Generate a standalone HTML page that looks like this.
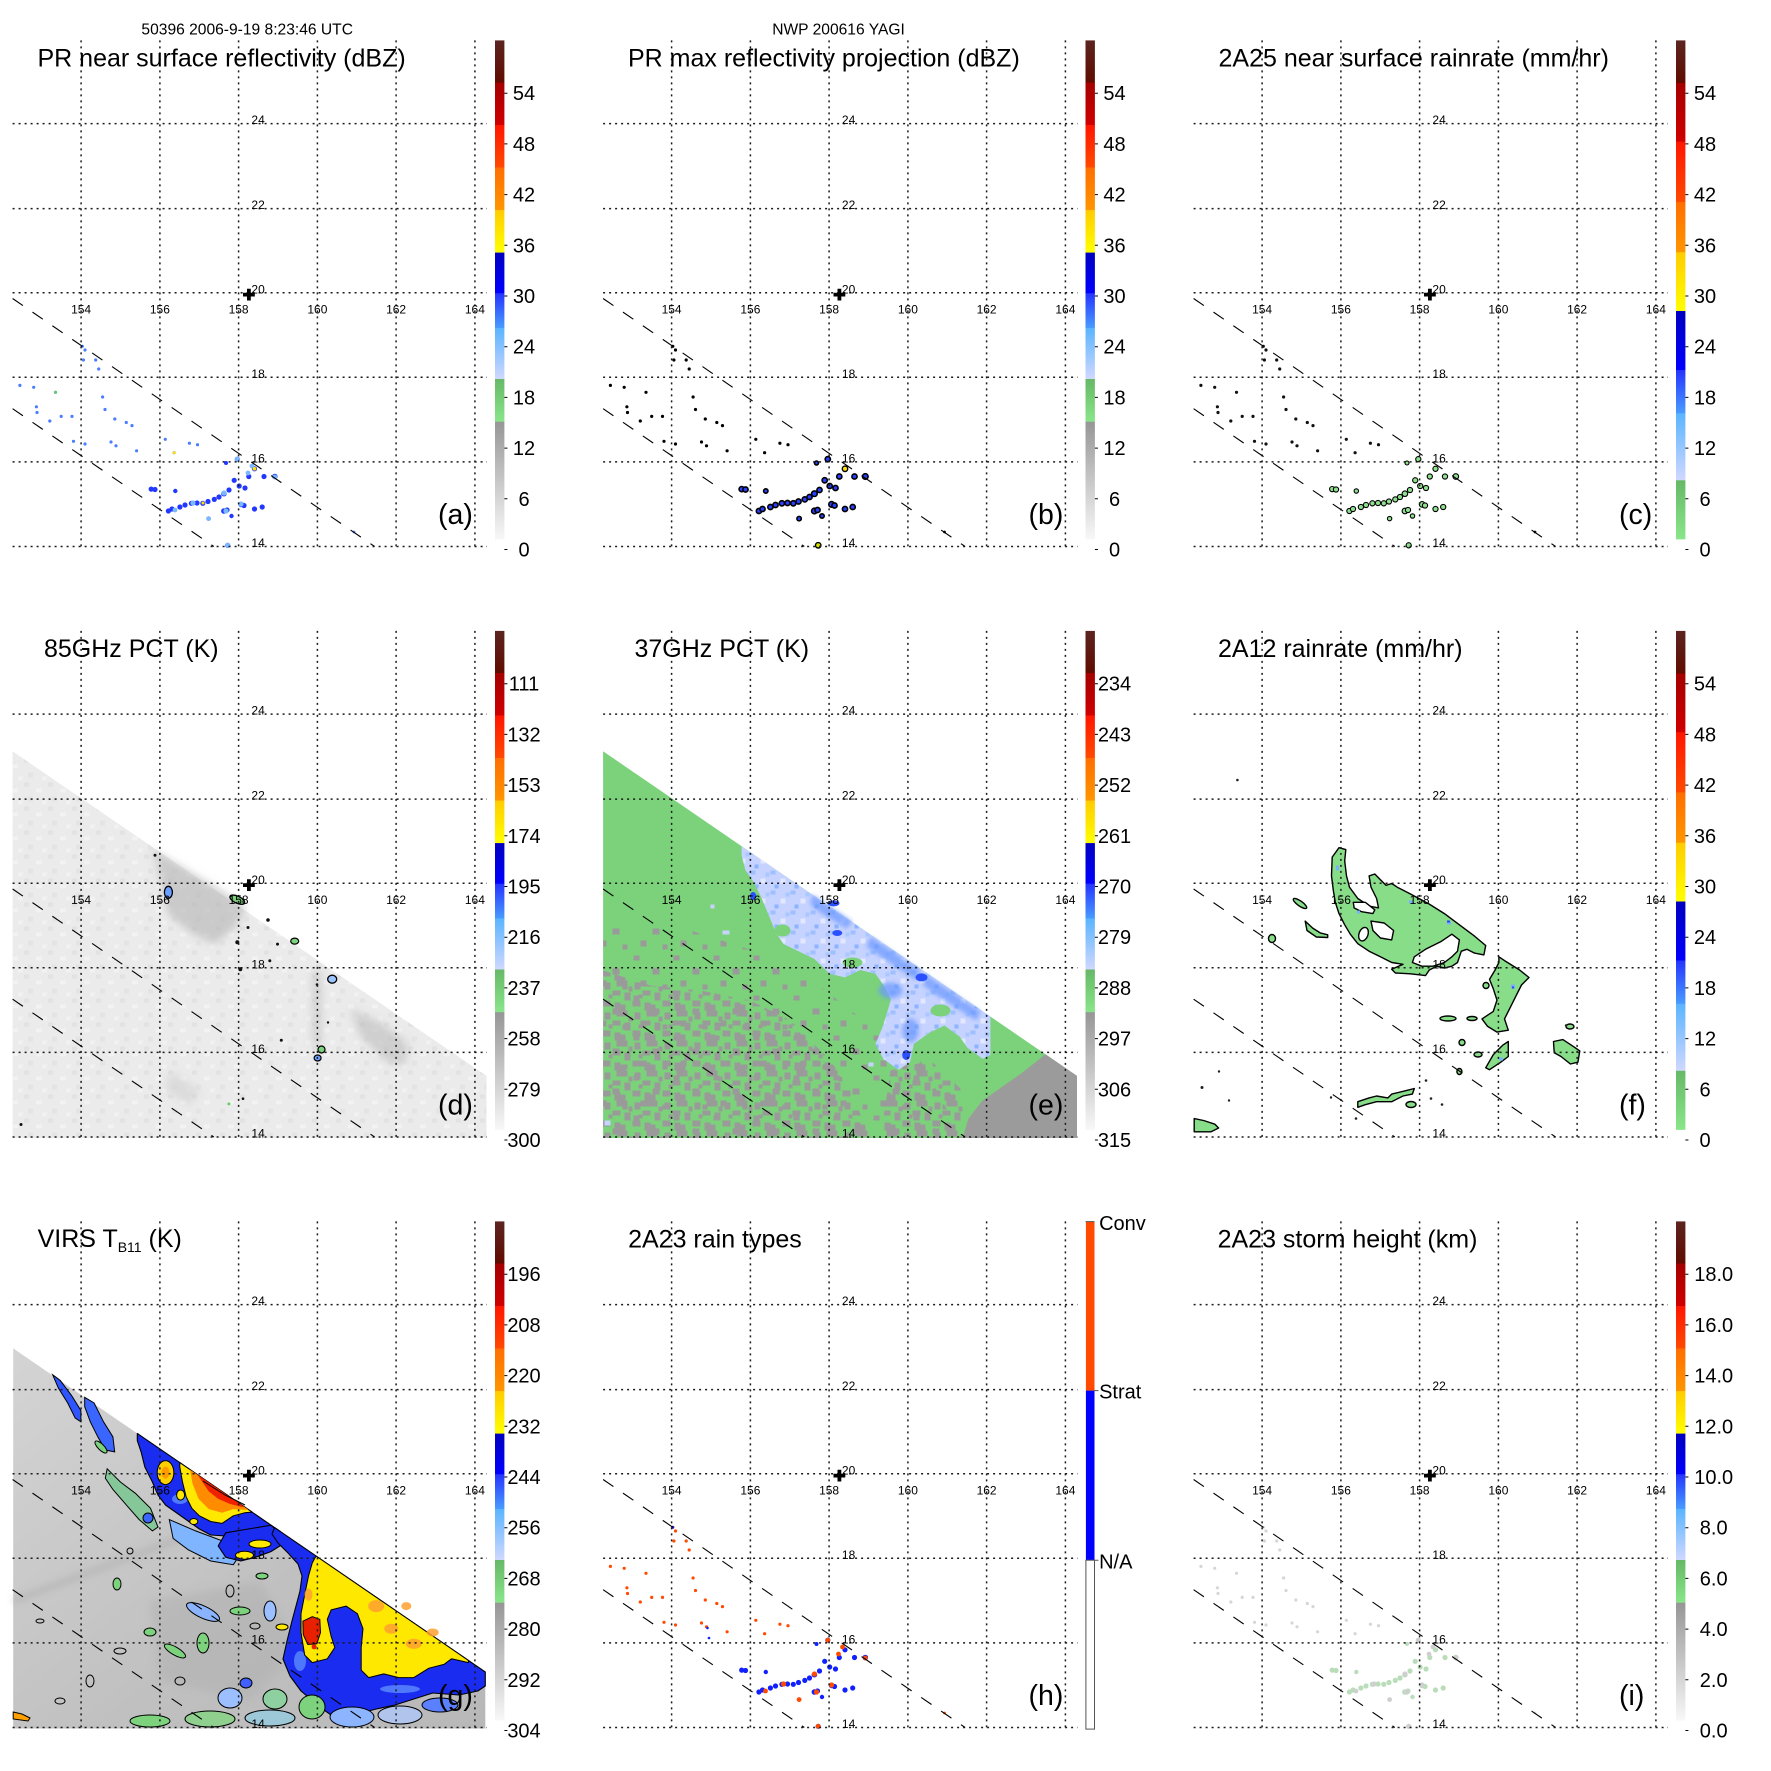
<!DOCTYPE html>
<html><head><meta charset="utf-8"><style>
html,body{margin:0;padding:0;background:#fff;}
svg{display:block;}
text{font-family:"Liberation Sans",Arial,sans-serif;fill:#000;}
</style></head><body>
<svg width="1771" height="1771" viewBox="0 0 1771 1771" xmlns="http://www.w3.org/2000/svg">
<defs>
<filter id="bl" x="-20%" y="-20%" width="140%" height="140%"><feGaussianBlur stdDeviation="4"/></filter>
<filter id="bl2" x="-20%" y="-20%" width="140%" height="140%"><feGaussianBlur stdDeviation="2"/></filter>
<linearGradient id="cBr" x1="0" y1="0" x2="0" y2="1"><stop offset="0" stop-color="#5c2420"/><stop offset="1" stop-color="#600c00"/></linearGradient>
<linearGradient id="cDr" x1="0" y1="0" x2="0" y2="1"><stop offset="0" stop-color="#a40000"/><stop offset="1" stop-color="#d00000"/></linearGradient>
<linearGradient id="cRd" x1="0" y1="0" x2="0" y2="1"><stop offset="0" stop-color="#ff1600"/><stop offset="1" stop-color="#ff4a00"/></linearGradient>
<linearGradient id="cOr" x1="0" y1="0" x2="0" y2="1"><stop offset="0" stop-color="#ff6e00"/><stop offset="1" stop-color="#ff9600"/></linearGradient>
<linearGradient id="cYe" x1="0" y1="0" x2="0" y2="1"><stop offset="0" stop-color="#ffcc00"/><stop offset="1" stop-color="#ffff00"/></linearGradient>
<linearGradient id="cBl" x1="0" y1="0" x2="0" y2="1"><stop offset="0" stop-color="#0000c0"/><stop offset="1" stop-color="#0000ff"/></linearGradient>
<linearGradient id="cMb" x1="0" y1="0" x2="0" y2="1"><stop offset="0" stop-color="#2434ff"/><stop offset="1" stop-color="#4a9cff"/></linearGradient>
<linearGradient id="cLb" x1="0" y1="0" x2="0" y2="1"><stop offset="0" stop-color="#5ab4ff"/><stop offset="1" stop-color="#d0d8ff"/></linearGradient>
<linearGradient id="cGr" x1="0" y1="0" x2="0" y2="1"><stop offset="0" stop-color="#66b866"/><stop offset="1" stop-color="#8ae68a"/></linearGradient>
<linearGradient id="cGy" x1="0" y1="0" x2="0" y2="1"><stop offset="0" stop-color="#969696"/><stop offset="1" stop-color="#f8f8f8"/></linearGradient>
<linearGradient id="gG" x1="0" y1="0" x2="1" y2="1"><stop offset="0" stop-color="#d4d4d4"/><stop offset="0.6" stop-color="#c0c0c0"/><stop offset="1" stop-color="#b8b8b8"/></linearGradient>

<pattern id="mot" width="30" height="30" patternUnits="userSpaceOnUse">
<rect x="0" y="0" width="7" height="6" fill="#9a9a9a"/><rect x="14" y="2" width="6" height="7" fill="#9a9a9a"/>
<rect x="22" y="10" width="8" height="5" fill="#9a9a9a"/><rect x="4" y="12" width="6" height="8" fill="#9a9a9a"/>
<rect x="12" y="20" width="8" height="6" fill="#9a9a9a"/><rect x="24" y="22" width="6" height="8" fill="#9a9a9a"/>
<rect x="0" y="24" width="5" height="6" fill="#9a9a9a"/><rect x="18" y="14" width="4" height="4" fill="#9a9a9a"/>
<rect x="8" y="6" width="4" height="5" fill="#9a9a9a"/><rect x="26" y="0" width="4" height="6" fill="#9a9a9a"/>
</pattern>
<pattern id="mot2" width="40" height="40" patternUnits="userSpaceOnUse">
<rect x="3" y="5" width="6" height="5" fill="#9a9a9a"/><rect x="22" y="18" width="7" height="6" fill="#9a9a9a"/>
<rect x="10" y="30" width="6" height="6" fill="#9a9a9a"/><rect x="32" y="34" width="5" height="5" fill="#9a9a9a"/>
</pattern>
<pattern id="tex" width="24" height="24" patternUnits="userSpaceOnUse">
<rect x="0" y="0" width="5" height="4" fill="#e2e2e2"/><rect x="12" y="6" width="6" height="4" fill="#f2f2f2"/>
<rect x="4" y="14" width="5" height="5" fill="#e4e4e4"/><rect x="18" y="18" width="5" height="4" fill="#f1f1f1"/>
</pattern>
<pattern id="lbp" width="20" height="20" patternUnits="userSpaceOnUse">
<rect x="0" y="0" width="5" height="4" fill="#9ec0ff"/><rect x="10" y="8" width="5" height="5" fill="#e2e8ff"/>
<rect x="4" y="14" width="4" height="4" fill="#8cb4ff"/><rect x="15" y="2" width="4" height="4" fill="#aac8ff"/>
</pattern>

<g id="ov">
 <g stroke="#1a1a1a" stroke-width="1.5" stroke-dasharray="2 4" fill="none">
  <path d="M81.1 40.4V549M159.9 40.4V549M238.6 40.4V549M317.4 40.4V549M396.1 40.4V549M474.9 40.4V549"/>
  <path d="M12.6 123.6H487M12.6 208.6H487M12.6 292.8H487M12.6 377.3H487M12.6 461.9H487M12.6 546.5H487"/>
 </g>
 <g stroke="#000" stroke-width="1.1" stroke-dasharray="12.5 11.6" fill="none">
  <path d="M12.6 298.5L374.6 546.5"/>
  <path d="M12.6 408.7L213.8 546.5"/>
 </g>
 <g font-size="12" text-anchor="middle">
  <text x="81.1" y="313.5">154</text><text x="159.9" y="313.5">156</text><text x="238.6" y="313.5">158</text>
  <text x="317.4" y="313.5">160</text><text x="396.1" y="313.5">162</text><text x="474.9" y="313.5">164</text>
 </g>
 <g font-size="12">
  <text x="251.4" y="124">24</text><text x="251.4" y="209">22</text><text x="251.4" y="293.3">20</text>
  <text x="251.4" y="377.8">18</text><text x="251.4" y="462.4">16</text><text x="251.4" y="547">14</text>
 </g>
 <path d="M243 294.6h11.8M248.9 288.7v11.8" stroke="#000" stroke-width="3.8"/>
</g>

<g id="cbA">
<rect x="495" y="40.4" width="9.4" height="42.4" fill="url(#cBr)"/>
<rect x="495" y="82.5" width="9.4" height="42.9" fill="url(#cDr)"/>
<rect x="495" y="125.1" width="9.4" height="42.8" fill="url(#cRd)"/>
<rect x="495" y="167.6" width="9.4" height="42.8" fill="url(#cOr)"/>
<rect x="495" y="210.1" width="9.4" height="42.8" fill="url(#cYe)"/>
<rect x="495" y="252.6" width="9.4" height="40.9" fill="url(#cBl)"/>
<rect x="495" y="293.2" width="9.4" height="35.1" fill="url(#cMb)"/>
<rect x="495" y="328" width="9.4" height="51.3" fill="url(#cLb)"/>
<rect x="495" y="379" width="9.4" height="43" fill="url(#cGr)"/>
<rect x="495" y="421.7" width="9.4" height="117.9" fill="url(#cGy)"/>
</g>
<g id="cbC">
<rect x="495" y="40.4" width="9.4" height="42.9" fill="url(#cBr)"/>
<rect x="495" y="83" width="9.4" height="59" fill="url(#cDr)"/>
<rect x="495" y="141.7" width="9.4" height="60.5" fill="url(#cRd)"/>
<rect x="495" y="201.9" width="9.4" height="50.7" fill="url(#cOr)"/>
<rect x="495" y="252.3" width="9.4" height="59" fill="url(#cYe)"/>
<rect x="495" y="311" width="9.4" height="59.3" fill="url(#cBl)"/>
<rect x="495" y="370" width="9.4" height="43.6" fill="url(#cMb)"/>
<rect x="495" y="413.3" width="9.4" height="67.3" fill="url(#cLb)"/>
<rect x="495" y="480.3" width="9.4" height="59.1" fill="url(#cGr)"/>
</g>
<path id="tk" d="M504.4 549.5h3M504.4 498.8h3M504.4 448.1h3M504.4 397.4h3M504.4 346.7h3M504.4 296h3M504.4 245.3h3M504.4 194.6h3M504.4 143.9h3M504.4 93.2h3" stroke="#000" stroke-width="1"/>

<g id="dS">
<circle cx="82.3" cy="346.3" r="1.6"/><circle cx="85" cy="350" r="1.6"/><circle cx="83.4" cy="360" r="1.6"/>
<circle cx="95.7" cy="360" r="1.6"/><circle cx="98.7" cy="369" r="1.6"/><circle cx="19.9" cy="385.4" r="1.6"/>
<circle cx="33.7" cy="387.3" r="1.6"/><circle cx="55.5" cy="392.3" r="1.6"/><circle cx="36.4" cy="406.8" r="1.6"/>
<circle cx="37" cy="412.5" r="1.6"/><circle cx="49.8" cy="421" r="1.6"/><circle cx="61.2" cy="416.4" r="1.6"/>
<circle cx="72" cy="416.4" r="1.6"/><circle cx="73.5" cy="441.3" r="1.6"/><circle cx="85" cy="444" r="1.6"/>
<circle cx="102.6" cy="397" r="1.6"/><circle cx="105" cy="409.5" r="1.6"/><circle cx="114.8" cy="419" r="1.6"/>
<circle cx="126.3" cy="422.5" r="1.6"/><circle cx="132" cy="425.6" r="1.6"/><circle cx="111" cy="442" r="1.6"/>
<circle cx="116" cy="445.8" r="1.6"/><circle cx="136.6" cy="450.8" r="1.6"/><circle cx="165.3" cy="439.3" r="1.6"/>
<circle cx="174.1" cy="452.7" r="1.6"/><circle cx="189.4" cy="443.2" r="1.6"/><circle cx="197.5" cy="444.7" r="1.6"/>
<circle cx="354" cy="532" r="1.4"/>
</g>
<g id="dA">
<circle cx="151.2" cy="489.1" r="2.6"/><circle cx="155" cy="489.5" r="2.6"/><circle cx="175.3" cy="491" r="2.2"/>
<circle cx="168.4" cy="511" r="2.6"/><circle cx="172" cy="509" r="2.6"/><circle cx="179.9" cy="507" r="2.6"/>
<circle cx="185" cy="505" r="2.6"/><circle cx="191.4" cy="503.3" r="2.6"/><circle cx="197" cy="503" r="2.6"/>
<circle cx="202.8" cy="503.3" r="2.6"/><circle cx="208" cy="501.5" r="2.6"/><circle cx="214.3" cy="499.4" r="2.6"/>
<circle cx="219" cy="497" r="2.6"/><circle cx="223.9" cy="493.7" r="2.8"/><circle cx="229" cy="490" r="2.6"/>
<circle cx="234.2" cy="480.3" r="2.6"/><circle cx="237.3" cy="459.2" r="2.6"/><circle cx="239.2" cy="486" r="2.6"/>
<circle cx="245" cy="488" r="2.6"/><circle cx="248.8" cy="476.5" r="2.6"/><circle cx="254.5" cy="468.8" r="2.6"/>
<circle cx="264" cy="476.5" r="2.6"/><circle cx="274.8" cy="476.5" r="2.8"/><circle cx="223.9" cy="511" r="2.8"/>
<circle cx="227" cy="510" r="2.6"/><circle cx="241.1" cy="504.4" r="2.8"/><circle cx="244" cy="505.5" r="2.6"/>
<circle cx="254.5" cy="509" r="2.6"/><circle cx="262.2" cy="507" r="2.6"/><circle cx="231.5" cy="516" r="2.2"/>
<circle cx="208.6" cy="518.6" r="2.2"/><circle cx="227.7" cy="545.3" r="2.6"/><circle cx="226" cy="463" r="2"/>
</g>
<g id="dO">
<circle cx="193" cy="503" r="2.6"/><circle cx="224" cy="493" r="2.6"/><circle cx="241" cy="504" r="2.6"/>
<circle cx="226" cy="511" r="2.6"/><circle cx="208.6" cy="518.6" r="2.4"/><circle cx="252" cy="466" r="2.4"/>
<circle cx="237.3" cy="459.2" r="2.4"/><circle cx="274.8" cy="477" r="2.4"/><circle cx="227.7" cy="545.3" r="2.4"/>
<circle cx="175" cy="510" r="2.4"/><circle cx="248" cy="473" r="2.4"/>
</g>
</defs>

<rect width="1771" height="1771" fill="#fff"/>

<!-- ===== Panel a ===== -->
<g>
<use href="#dS" fill="#4b7dff"/>
<use href="#dA" fill="#2338ff"/>
<use href="#dO" fill="#7ab8ff"/>
<circle cx="254.5" cy="468.8" r="1.8" fill="#ffe000"/><circle cx="174.1" cy="452.7" r="1.5" fill="#ffe000"/>
<circle cx="203" cy="503" r="1.5" fill="#ffe000"/><circle cx="55.5" cy="392.3" r="1.5" fill="#6c6"/>
<use href="#ov"/>
<use href="#cbA"/><use href="#tk"/>
<g font-size="20" text-anchor="middle">
<text x="524" y="556.5">0</text><text x="524" y="505.8">6</text><text x="524" y="455.1">12</text><text x="524" y="404.4">18</text><text x="524" y="353.7">24</text><text x="524" y="303">30</text><text x="524" y="252.3">36</text><text x="524" y="201.6">42</text><text x="524" y="150.9">48</text><text x="524" y="100.2">54</text>
</g>
<text x="247.2" y="34.4" font-size="15.6" text-anchor="middle">50396 2006-9-19 8:23:46 UTC</text>
<text x="37.5" y="66.5" font-size="25">PR near surface reflectivity (dBZ)</text>
<text x="438" y="524" font-size="28.5">(a)</text>
</g>

<!-- ===== Panel b ===== -->
<g transform="translate(590.5,0)">
<use href="#dS" fill="#000"/>
<use href="#dA" fill="#2a40ff" stroke="#000" stroke-width="1.6"/>
<circle cx="227.7" cy="545.3" r="2.6" fill="#d8e000" stroke="#000" stroke-width="1.2"/>
<circle cx="254.5" cy="468.8" r="2" fill="#ffe000"/>
<use href="#ov"/>
<use href="#cbA"/><use href="#tk"/>
<g font-size="20" text-anchor="middle">
<text x="524" y="556.5">0</text><text x="524" y="505.8">6</text><text x="524" y="455.1">12</text><text x="524" y="404.4">18</text><text x="524" y="353.7">24</text><text x="524" y="303">30</text><text x="524" y="252.3">36</text><text x="524" y="201.6">42</text><text x="524" y="150.9">48</text><text x="524" y="100.2">54</text>
</g>
<text x="248" y="34.4" font-size="15.6" text-anchor="middle">NWP 200616 YAGI</text>
<text x="37.5" y="66.5" font-size="25">PR max reflectivity projection (dBZ)</text>
<text x="438" y="524" font-size="28.5">(b)</text>
</g>

<!-- ===== Panel c ===== -->
<g transform="translate(1181,0)">
<use href="#dS" fill="#111"/>
<use href="#dA" fill="#8fe08f" stroke="#000" stroke-width="1.1"/>
<use href="#ov"/>
<use href="#cbC"/><use href="#tk"/>
<g font-size="20" text-anchor="middle">
<text x="524" y="556.5">0</text><text x="524" y="505.8">6</text><text x="524" y="455.1">12</text><text x="524" y="404.4">18</text><text x="524" y="353.7">24</text><text x="524" y="303">30</text><text x="524" y="252.3">36</text><text x="524" y="201.6">42</text><text x="524" y="150.9">48</text><text x="524" y="100.2">54</text>
</g>
<text x="37.5" y="66.5" font-size="25">2A25 near surface rainrate (mm/hr)</text>
<text x="438" y="524" font-size="28.5">(c)</text>
</g>

<!-- ===== Panel d ===== -->
<g transform="translate(0,590.5)">
<polygon points="12.6,160.8 486.5,485.4 486.5,547.5 12.6,547.5" fill="#ebebeb"/>
<polygon points="12.6,160.8 486.5,485.4 486.5,547.5 12.6,547.5" fill="url(#tex)"/>
<g filter="url(#bl)">
<polygon points="153,259 183.7,277 214.3,295.4 246,316 237.3,335 214.3,353.6 191.4,342.5 168.4,324 160.7,290.7" fill="#b4b4b4" opacity="0.6"/>
<polygon points="350,418 380,432 408,452 405,475 385,470 360,445" fill="#b8b8b8" opacity="0.55"/>
<polygon points="312,380 322,380 322,455 312,455" fill="#c4c4c4" opacity="0.6"/>
<polygon points="170,480 200,500 190,515 165,500" fill="#d0d0d0" opacity="0.6"/>
</g>
<ellipse cx="168.4" cy="301.8" rx="4" ry="6" fill="#6aa0ff" stroke="#000" stroke-width="1.3"/>
<ellipse cx="237.3" cy="309.2" rx="8" ry="3.5" transform="rotate(25 237.3 309.2)" fill="#7dd27d" stroke="#000" stroke-width="1.3"/>
<ellipse cx="294.7" cy="350.6" rx="4" ry="3" fill="#7dd27d" stroke="#000" stroke-width="1.2"/>
<ellipse cx="332.2" cy="388.7" rx="4.5" ry="4" fill="#9cc4ff" stroke="#000" stroke-width="1.3"/>
<ellipse cx="321.5" cy="459" rx="3.5" ry="3.5" fill="#7dd27d" stroke="#000" stroke-width="1.2"/>
<ellipse cx="317.6" cy="467.5" rx="3.5" ry="3" fill="#6aa0ff" stroke="#000" stroke-width="1.2"/>
<g fill="#111">
<circle cx="155" cy="264.8" r="1.5"/><circle cx="268" cy="329.5" r="1.8"/><circle cx="248" cy="337" r="1.5"/>
<circle cx="237.3" cy="351.7" r="2"/><circle cx="277.5" cy="353.6" r="1.5"/><circle cx="269.8" cy="370.2" r="1.5"/>
<circle cx="240.3" cy="378.7" r="2"/><circle cx="281.3" cy="449.7" r="1.5"/><circle cx="243" cy="508.2" r="1.3"/>
<circle cx="21" cy="534" r="1.5"/><circle cx="317" cy="394" r="1.3"/><circle cx="328" cy="432" r="1.2"/>
</g>
<circle cx="228.9" cy="513.4" r="1.5" fill="#6c6"/>
<use href="#ov"/>
<use href="#cbA"/><use href="#tk"/>
<g font-size="20" text-anchor="middle">
<text x="524" y="556.5">300</text><text x="524" y="505.8">279</text><text x="524" y="455.1">258</text><text x="524" y="404.4">237</text><text x="524" y="353.7">216</text><text x="524" y="303">195</text><text x="524" y="252.3">174</text><text x="524" y="201.6">153</text><text x="524" y="150.9">132</text><text x="524" y="100.2">111</text>
</g>
<text x="44" y="66.5" font-size="25">85GHz PCT (K)</text>
<text x="438" y="524" font-size="28.5">(d)</text>
</g>

<!-- ===== Panel e ===== -->
<g transform="translate(590.5,590.5)">
<polygon points="12.6,160.8 486.5,485.4 486.5,547.5 12.6,547.5" fill="#7bd27b"/>
<polygon points="12.6,330 100,340 200,372 260,420 330,470 372,547.5 12.6,547.5" fill="url(#mot2)"/>
<polygon points="12.6,380 60,395 110,400 160,410 200,430 240,470 260,500 280,547.5 12.6,547.5" fill="url(#mot)"/>
<polygon points="300,480 340,470 372,500 372,547.5 290,547.5" fill="url(#mot)"/>
<polygon points="455,463.8 486.5,485.4 486.5,547.5 372,547.5 378,528 392,510 412,496 432,482" fill="#9b9b9b"/>
<polygon points="151.1,255.7 399.9,426.1 399.9,464.5 392.2,468.3 376.9,457.2 369.2,446.1 353.9,435 338.6,442.4 323.3,453.5 319.5,471.9 308,479.3 292.7,468.3 285,453.5 292.7,435 300.4,409.1 292.7,394.3 285,383.2 269.7,379.5 254.4,386.9 239.1,383.2 231.5,375.8 223.8,368.4 208.5,361 193.2,353.6 185.5,342.5 177.9,324 170.2,305.5 162.6,290.7 154.9,279.6 151.1,264.8" fill="#c6d2ff"/>
<polygon points="151.1,255.7 399.9,426.1 399.9,464.5 392.2,468.3 376.9,457.2 369.2,446.1 353.9,435 338.6,442.4 323.3,453.5 319.5,471.9 308,479.3 292.7,468.3 285,453.5 292.7,435 300.4,409.1 292.7,394.3 285,383.2 269.7,379.5 254.4,386.9 239.1,383.2 231.5,375.8 223.8,368.4 208.5,361 193.2,353.6 185.5,342.5 177.9,324 170.2,305.5 162.6,290.7 154.9,279.6 151.1,264.8" fill="url(#lbp)"/>
<g fill="#6a98ff" opacity="0.7" filter="url(#bl2)">
<polygon points="222,304 262,331 256,338 230,322 220,314"/>
<polygon points="280,346 330,380 326,390 290,366 276,356"/>
<polygon points="335,384 390,421 386,430 345,404 332,394"/>
<ellipse cx="300" cy="400" rx="12" ry="8"/>
<ellipse cx="320" cy="440" rx="8" ry="12"/>
</g>
<ellipse cx="192" cy="340" rx="8" ry="6" fill="#7bd27b"/>
<ellipse cx="262" cy="372" rx="10" ry="5" fill="#7bd27b"/>
<ellipse cx="350" cy="420" rx="10" ry="6" fill="#7bd27b"/>
<g fill="#2a50ff">
<ellipse cx="246.8" cy="342.5" rx="5" ry="3"/><ellipse cx="331" cy="386.9" rx="6" ry="4"/>
<ellipse cx="315.7" cy="464.5" rx="4" ry="5"/><ellipse cx="162.6" cy="305.5" rx="3" ry="4"/>
<ellipse cx="243" cy="312.9" rx="6" ry="3"/>
</g>
<g fill="#c6d2ff"><rect x="132" y="340" width="7" height="4"/><rect x="120" y="314" width="4" height="4"/><rect x="278" y="472" width="5" height="4"/><rect x="14" y="530" width="6" height="5"/></g>
<use href="#ov"/>
<use href="#cbA"/><use href="#tk"/>
<g font-size="20" text-anchor="middle">
<text x="524" y="556.5">315</text><text x="524" y="505.8">306</text><text x="524" y="455.1">297</text><text x="524" y="404.4">288</text><text x="524" y="353.7">279</text><text x="524" y="303">270</text><text x="524" y="252.3">261</text><text x="524" y="201.6">252</text><text x="524" y="150.9">243</text><text x="524" y="100.2">234</text>
</g>
<text x="44" y="66.5" font-size="25">37GHz PCT (K)</text>
<text x="438" y="524" font-size="28.5">(e)</text>
</g>

<!-- ===== Panel f ===== -->
<g transform="translate(1181,590.5)">
<g fill="#88dd88" stroke="#000" stroke-width="1.4" stroke-linejoin="round">
<polygon points="158,257.2 164.8,259.1 163.7,270.4 165.5,285.4 168.5,296.7 176.8,308 188.1,315.5 197.5,317.4 195.6,308 190,296.7 188.1,285.4 193.8,283.5 199.4,289.2 205,294.8 210.7,293 216.3,296.7 229.5,303.5 248.3,313.6 263.4,323.1 278.4,334.3 293.5,345.6 304.7,355 302.9,364.4 293.5,362.6 285.9,358.8 280.3,360.7 276.5,372 270.9,375.7 263.4,377.6 255.8,375.7 248.3,379.5 244.5,385.1 229.5,383.3 214.4,382.5 210.7,378.7 222,373.8 210.7,372 199.4,366.3 188.1,360.7 176.8,353.2 169.3,343.7 163.7,334.3 158,323.1 154.3,311.8 152.4,300.5 150.5,285.4 151.2,266.6"/>
<polygon points="317.9,366.3 323.5,370.1 338.6,379.5 348,387 340.5,394.5 334.8,405.8 329.2,417.1 323.5,428.4 327.3,439.7 316,441.6 306.6,435.9 301,428.4 312.3,420.9 316,409.6 312.3,398.3 308.5,388.9 314.1,379.5 317.9,372"/>
<polygon points="372.5,451 381.9,449.1 393.2,456.6 398.8,460.4 396.9,471.7 389.4,473.5 380,466 373.2,462.3"/>
<polygon points="304.7,477.3 312.3,464.1 321.7,454.7 327.3,451 327.3,466 319.8,471.7 308.5,479.2"/>
<polygon points="176.8,511.2 188.1,507.4 195.6,505.5 206.9,507.4 210.7,503.6 225.7,499.9 233.3,498 231.4,503.6 222,505.5 210.7,511.2 195.6,511.2 184.3,514.2 176.8,516.8"/>
<polygon points="13.2,528.1 22.6,530 33.9,533.7 37.6,537.5 30.1,541.3 22.6,541.3 13.2,541.3"/>
<polygon points="124.2,330.6 131.7,337.6 139.2,342.4 146.7,344.3 146.7,347 135.4,346.5 126,340"/>
<ellipse cx="119" cy="313" rx="8" ry="2.5" transform="rotate(35 119 313)"/>
<ellipse cx="91" cy="348" rx="3.5" ry="4"/>
<ellipse cx="267" cy="428" rx="8" ry="2.5"/>
<ellipse cx="291" cy="428" rx="5" ry="2"/>
<ellipse cx="281" cy="452" rx="3" ry="3"/>
<ellipse cx="297" cy="464" rx="4" ry="2.5"/>
<ellipse cx="230" cy="514" rx="5" ry="3"/>
<ellipse cx="389" cy="436" rx="4" ry="2.5"/>
<ellipse cx="278.4" cy="481" rx="2.5" ry="3"/>
<ellipse cx="305" cy="395" rx="3" ry="3"/>
</g>
<g fill="#fff" stroke="#000" stroke-width="1.4" stroke-linejoin="round">
<polygon points="172.3,311.8 184.3,311.8 193.8,319.3 191.9,323.1 180.6,321.2 173.1,317.4"/>
<polygon points="190,330.6 203.2,332.5 212.6,340 210.7,349.4 199.4,347.5 191.9,340"/>
<ellipse cx="182.5" cy="343.7" rx="4.5" ry="7" transform="rotate(20 182.5 343.7)"/>
<polygon points="233.3,366.3 244.5,358.8 259.6,351.3 270.9,343.7 278.4,349.4 276.5,360.7 270.9,366.3 263.4,372 252.1,375.7 240.8,375.7 231.4,372"/>
</g>
<g fill="#7ab0ff"><rect x="155" y="275" width="3" height="5"/><rect x="228" y="310" width="4" height="3"/><rect x="266" y="331" width="4" height="3"/><rect x="330" y="394" width="4" height="4"/><rect x="318" y="467" width="4" height="3"/><rect x="176" y="320" width="3" height="3"/></g>
<g fill="#2a40ff"><rect x="266" y="330" width="3" height="2"/><rect x="331" y="396" width="2" height="2"/></g>
<g fill="#222"><circle cx="56.4" cy="189.5" r="1.3"/><circle cx="38" cy="481" r="1.2"/><circle cx="21" cy="497" r="1.5"/><circle cx="48" cy="510" r="1.2"/><circle cx="150" cy="507" r="1.2"/><circle cx="175" cy="528" r="1.3"/><circle cx="245" cy="490" r="1.3"/><circle cx="250" cy="508" r="1.3"/><circle cx="261" cy="514" r="1.3"/><circle cx="385" cy="435" r="1.2"/></g>
<use href="#ov"/>
<use href="#cbC"/><use href="#tk"/>
<g font-size="20" text-anchor="middle">
<text x="524" y="556.5">0</text><text x="524" y="505.8">6</text><text x="524" y="455.1">12</text><text x="524" y="404.4">18</text><text x="524" y="353.7">24</text><text x="524" y="303">30</text><text x="524" y="252.3">36</text><text x="524" y="201.6">42</text><text x="524" y="150.9">48</text><text x="524" y="100.2">54</text>
</g>
<text x="37" y="66.5" font-size="25">2A12 rainrate (mm/hr)</text>
<text x="438" y="524" font-size="28.5">(f)</text>
</g>

<!-- ===== Panel g ===== -->
<g transform="translate(0,1181)">
<polygon points="13.2,167.4 485.3,491 485.3,547.5 13.2,547.5" fill="url(#gG)"/>
<g filter="url(#bl)" opacity="0.5">
<path d="M13.2 420 L120 380 L200 350" stroke="#a0a0a0" stroke-width="5" fill="none"/>
<polygon points="150,420 260,400 300,470 250,520 160,500" fill="#b0b0b0"/>
</g>
<!-- light blue / green mottles -->
<g stroke="#000" stroke-width="1">
<polygon points="52.7,193.8 60.2,199.4 71.5,214.4 80.9,229.5 80.9,240.8 75.2,237 67.7,222 58.3,206.9" fill="#2f55ff"/>
<polygon points="84.7,216.3 94.1,222 103.5,240.8 112.9,255.8 114.7,270.9 105.3,269 97.8,255.8 90.3,240.8 84.7,225.7" fill="#3a66ff"/>
<ellipse cx="101" cy="266" rx="8" ry="3" transform="rotate(45 101 266)" fill="#7dd27d"/>
<polygon points="107.2,287.8 120.4,301 135.4,312.3 150.5,327.3 158,346.1 152.4,349.9 139.2,338.6 126,323.6 112.9,308.5 105.3,297.2" fill="#86c79a"/>
<polygon points="169.3,338.6 195.6,349.9 225.7,361.2 240.8,372.5 233.3,383.7 210.7,380 188.1,368.7 173.1,357.4" fill="#7fb4ff"/>
<ellipse cx="117" cy="403" rx="4" ry="6" fill="#7dd27d"/>
<ellipse cx="203" cy="431" rx="18" ry="6" transform="rotate(25 203 431)" fill="#8ab4ff"/>
<ellipse cx="203" cy="462" rx="6" ry="10" fill="#7dd27d"/>
<ellipse cx="175" cy="470" rx="12" ry="4" transform="rotate(30 175 470)" fill="#7dd27d"/>
<ellipse cx="150" cy="451" rx="6" ry="4" fill="#7dd27d"/>
<ellipse cx="240" cy="430" rx="10" ry="4" fill="#7dd27d"/>
<ellipse cx="262" cy="395" rx="6" ry="3" fill="#7dd27d"/>
<ellipse cx="270" cy="430" rx="6" ry="10" fill="#9cc0ff"/>
<ellipse cx="148" cy="337" rx="5" ry="5" fill="#3a66ff"/>
<ellipse cx="270" cy="537" rx="25" ry="8" fill="#9cc8d8"/>
<ellipse cx="230" cy="517" rx="12" ry="10" fill="#9cc0ff"/>
<ellipse cx="246" cy="502" rx="6" ry="5" fill="#4060ff"/>
<ellipse cx="275" cy="518" rx="12" ry="10" fill="#8fd0a0"/>
<ellipse cx="210" cy="538" rx="25" ry="8" fill="#8fd08f"/>
<ellipse cx="150" cy="540" rx="20" ry="6" fill="#7dd27d"/>
<polygon points="13.2,531 22,533 30,537 28,540 13.2,538" fill="#ffa000"/>
</g>
<g fill="none" stroke="#000" stroke-width="1">
<ellipse cx="120" cy="470" rx="6" ry="3"/><ellipse cx="90" cy="500" rx="4" ry="6"/><ellipse cx="60" cy="520" rx="5" ry="3"/>
<ellipse cx="180" cy="500" rx="5" ry="4"/><ellipse cx="230" cy="410" rx="4" ry="6"/><ellipse cx="255" cy="445" rx="5" ry="3"/>
<ellipse cx="130" cy="370" rx="3" ry="3"/><ellipse cx="40" cy="440" rx="4" ry="2"/>
</g>
<!-- big blue regions -->
<g stroke="#000" stroke-width="1.1" stroke-linejoin="round">
<polygon points="137.3,252.4 280.3,350.5 274.6,352 263.4,352 248.3,350 240.8,352 225.7,355 210.7,354 199.4,348 188.1,340 176.8,332 165.5,324 158,314.1 152.4,301 144.8,285.9 141.1,270.9 137.3,259.6" fill="#1a2cf0"/>
<polygon points="225.7,351.8 248.3,348 270.9,344.2 280.3,351.8 285.9,361.2 270.9,370.6 255.8,376.2 240.8,380 225.7,376.2 218.2,364.9" fill="#1a2cf0"/>
<polygon points="274.6,346.6 485.3,491 485.3,505 477.8,510 459,514 432.7,512 413.8,518 395,524 376.2,528 361.2,532 346.1,536 331.1,534 319.8,526 301,510 290,495 283,478 287,460 292,440 296,425 300,410 302,395 298,383 288,372 278,362 272,353" fill="#1a2cf0"/>
</g>
<g stroke="#000" stroke-width="1">
<ellipse cx="352" cy="536" rx="22" ry="10" fill="#8cb4ff"/>
<ellipse cx="400" cy="534" rx="22" ry="9" fill="#b0c4ec"/>
<ellipse cx="312" cy="526" rx="13" ry="12" fill="#7dd27d"/>
<ellipse cx="440" cy="524" rx="18" ry="7" fill="#5a80ff"/>
</g>
<g fill="#5c8cff" opacity="0.8">
<ellipse cx="180" cy="318" rx="8" ry="5"/><ellipse cx="400" cy="508" rx="20" ry="4"/><ellipse cx="300" cy="480" rx="6" ry="10"/>
</g>
<!-- yellow / orange / red -->
<g stroke="#000" stroke-width="1" stroke-linejoin="round">
<polygon points="179.8,281.6 252.1,331.1 244.5,331.8 233.3,334.8 222,342.4 210.7,340.5 199.4,334.8 191.9,327.3 186.2,316 182.5,301 179.8,286" fill="#ffe800"/>
<polygon points="316,375 468.4,479.4 468.4,481.6 451.5,477.8 444,483.4 428.9,487.2 413.8,496.6 398.8,496.6 383.7,492.9 368.7,496.6 361.2,489.1 361.2,466.5 363,447.7 357.4,432.7 346.1,425.1 331.1,428.9 327.3,438.3 331.1,455.2 334.8,466.5 327.3,477.8 312.3,481.6 304.7,474.1 301,451.5 301,432.7 304.7,413.8 308.5,395 312.3,381.9" fill="#ffe800"/>
<ellipse cx="165.5" cy="291.6" rx="8.3" ry="12" fill="#ffd000"/>
<ellipse cx="180.6" cy="314" rx="4" ry="5" fill="#ffe800"/>
<ellipse cx="193.8" cy="340.5" rx="4" ry="3" fill="#ffe800"/>
<ellipse cx="260" cy="363" rx="11" ry="4" fill="#ffe800"/>
<ellipse cx="244.5" cy="374.3" rx="9" ry="4" fill="#ffe800"/>
<ellipse cx="282" cy="446" rx="6" ry="3" fill="#ffe800"/>
</g>
<polygon points="190,288.6 248.3,328.6 244.5,328.8 233.3,328.1 222,331.8 208.8,328.1 198.6,317.9 192.6,302.9" fill="#ff8c00"/>
<polygon points="197.5,293.7 244.5,326 240.8,325.8 229.5,322.8 218.2,317.9 208.8,310.4 202.4,301" fill="#f02000"/>
<path d="M203 300 L225 314 L245 324" stroke="#000" stroke-width="1" fill="none"/>
<ellipse cx="165.5" cy="291.6" rx="4" ry="6" fill="#ff9a00"/>
<g fill="#ffa030" opacity="0.85">
<ellipse cx="376.2" cy="425.1" rx="8" ry="6"/><ellipse cx="391.3" cy="447.7" rx="7" ry="5"/>
<ellipse cx="413.8" cy="462.8" rx="8" ry="5"/><ellipse cx="406.3" cy="425.1" rx="5" ry="4"/>
<ellipse cx="432.7" cy="451.5" rx="6" ry="4"/><ellipse cx="308.5" cy="413.8" rx="4" ry="6"/>
</g>
<polygon points="302.9,440.2 312.3,435.7 319.8,438.3 320.5,451.5 316.8,462.8 307.8,463.5 303.2,453.4" fill="#e82000" stroke="#000" stroke-width="1"/>
<circle cx="314.1" cy="465.8" r="2.5" fill="#e82000"/>
<use href="#ov"/>
<use href="#cbA"/><use href="#tk"/>
<g font-size="20" text-anchor="middle">
<text x="524" y="556.5">304</text><text x="524" y="505.8">292</text><text x="524" y="455.1">280</text><text x="524" y="404.4">268</text><text x="524" y="353.7">256</text><text x="524" y="303">244</text><text x="524" y="252.3">232</text><text x="524" y="201.6">220</text><text x="524" y="150.9">208</text><text x="524" y="100.2">196</text>
</g>
<text x="37.6" y="66" font-size="25">VIRS T<tspan font-size="14" dy="5">B11</tspan><tspan dy="-5"> (K)</tspan></text>
<text x="438" y="524" font-size="28.5">(g)</text>
</g>

<!-- ===== Panel h ===== -->
<g transform="translate(590.5,1181)">
<use href="#dS" fill="#ff4a00"/>
<use href="#dA" fill="#1020ff"/>
<use href="#dO" fill="#ff4a00"/>
<circle cx="82.3" cy="346.3" r="1.4" fill="#1020ff"/><circle cx="117" cy="447" r="1.3" fill="#1020ff"/><circle cx="118.5" cy="457" r="1.3" fill="#1020ff"/>
<use href="#ov"/>
<rect x="495.4" y="40.6" width="8.6" height="169" fill="#ff4a00"/>
<rect x="495.4" y="209.6" width="8.6" height="169.6" fill="#0000ff"/>
<rect x="495.4" y="379.2" width="8.6" height="168.9" fill="#fff" stroke="#555" stroke-width="1"/>
<path d="M495 40.6h9M504 209.6h4M504 379.2h4" stroke="#555" stroke-width="1"/>
<g font-size="20">
<text x="508.6" y="49">Conv</text><text x="508.6" y="217.7">Strat</text><text x="508.6" y="387.7">N/A</text>
</g>
<text x="37.6" y="66.5" font-size="25">2A23 rain types</text>
<text x="438" y="524" font-size="28.5">(h)</text>
</g>

<!-- ===== Panel i ===== -->
<g transform="translate(1181,1181)">
<use href="#dS" fill="#d6d6d6"/>
<use href="#dA" fill="#b9dcb9"/>
<use href="#dO" fill="#cfcfcf"/>
<use href="#ov"/>
<use href="#cbA"/><use href="#tk"/>
<g font-size="20" text-anchor="middle">
<text x="532.7" y="556.5">0.0</text><text x="532.7" y="505.8">2.0</text><text x="532.7" y="455.1">4.0</text><text x="532.7" y="404.4">6.0</text><text x="532.7" y="353.7">8.0</text><text x="532.7" y="303">10.0</text><text x="532.7" y="252.3">12.0</text><text x="532.7" y="201.6">14.0</text><text x="532.7" y="150.9">16.0</text><text x="532.7" y="100.2">18.0</text>
</g>
<text x="36.6" y="66.5" font-size="25">2A23 storm height (km)</text>
<text x="438" y="524" font-size="28.5">(i)</text>
</g>
</svg>
</body></html>
